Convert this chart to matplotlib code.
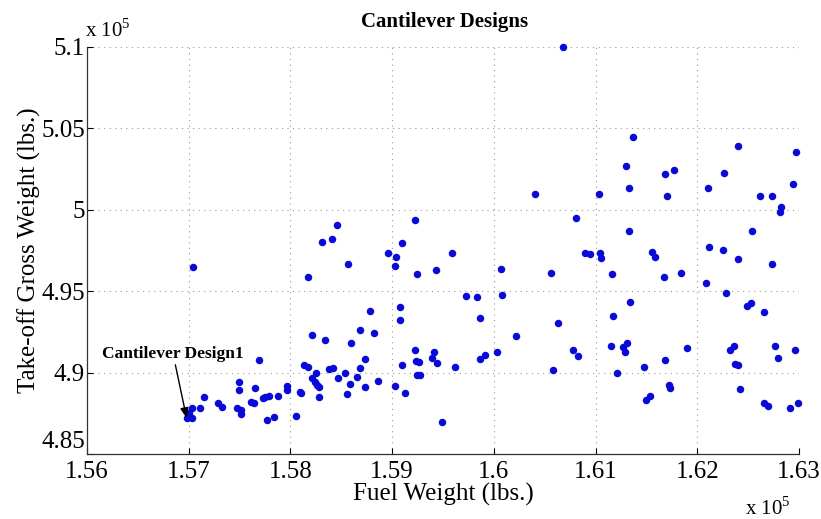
import numpy as np
import matplotlib
matplotlib.use("Agg")
import matplotlib.pyplot as plt
import matplotlib.transforms as mtransforms
from matplotlib.ticker import FuncFormatter

# fuel weight and take-off gross weight, both in units of 1e5 lbs
fuel_weight = [
    1.5704, 1.5817, 1.5821, 1.5834, 1.5769, 1.5813, 1.5817, 1.5825, 1.5838, 1.5821,
    1.5824, 1.5826, 1.5828, 1.5828, 1.5809, 1.5810, 1.5797, 1.5797, 1.5788, 1.5779,
    1.5775, 1.5773, 1.5765, 1.5761, 1.5764, 1.5749, 1.5749, 1.5747, 1.5751, 1.5751,
    1.5729, 1.5733, 1.5715, 1.5711, 1.5703, 1.5700, 1.5698, 1.5703, 1.5777, 1.5784,
    1.5805, 1.5857, 1.5896, 1.5904, 1.5903, 1.5959, 1.5924, 1.5943, 1.6007, 1.6056,
    1.5973, 1.5983, 1.6008, 1.5986, 1.6063, 1.6022, 1.5878, 1.5908, 1.5908, 1.5868,
    1.5882, 1.5860, 1.5873, 1.5922, 1.5941, 1.5939, 1.5944, 1.5923, 1.5926, 1.5910,
    1.5924, 1.5927, 1.5962, 1.5986, 1.5991, 1.6003, 1.6058, 1.6078, 1.5842, 1.5847,
    1.5854, 1.5868, 1.5865, 1.5859, 1.5856, 1.5873, 1.5886, 1.5903, 1.5913, 1.5949,
    1.6090, 1.6095, 1.6104, 1.6105, 1.6155, 1.6158, 1.6116, 1.6167, 1.6184, 1.6240,
    1.6273, 1.6209, 1.6228, 1.6249, 1.6253, 1.6266, 1.6134, 1.6117, 1.6115, 1.6127,
    1.6131, 1.6129, 1.6190, 1.6168, 1.6148, 1.6121, 1.6083, 1.6172, 1.6173, 1.6150,
    1.6154, 1.6232, 1.6236, 1.6237, 1.6240, 1.6242, 1.6276, 1.6279, 1.6296, 1.6266,
    1.6270, 1.6291, 1.6299, 1.6137, 1.6130, 1.6133, 1.6103, 1.6168, 1.6177, 1.6170,
    1.6081, 1.6133, 1.6240, 1.6226, 1.6211, 1.6297, 1.6294, 1.6262, 1.6273, 1.6282,
    1.6281, 1.6254, 1.6212, 1.6225, 1.6068, 1.6040, 1.5846, 1.5841, 1.5922, 1.5910,
    1.5831,
]
gross_weight = [
    4.9647, 4.9589, 4.9231, 4.9200, 4.9077, 4.9047, 4.9036, 4.9000, 4.9020, 4.8965,
    4.8944, 4.8924, 4.8910, 4.8852, 4.8883, 4.8876, 4.8920, 4.8893, 4.8856, 4.8858,
    4.8852, 4.8842, 4.8907, 4.8821, 4.8815, 4.8944, 4.8893, 4.8780, 4.8770, 4.8744,
    4.8815, 4.8790, 4.8848, 4.8781, 4.8780, 4.8750, 4.8719, 4.8719, 4.8709, 4.8725,
    4.8735, 4.9667, 4.9733, 4.9712, 4.9657, 4.9737, 4.9606, 4.9630, 4.9634, 4.9614,
    4.9472, 4.9462, 4.9477, 4.9334, 4.9303, 4.9225, 4.9380, 4.9405, 4.9323, 4.9262,
    4.9245, 4.9184, 4.9085, 4.9139, 4.9128, 4.9088, 4.9057, 4.9071, 4.9063, 4.9047,
    4.8985, 4.8985, 4.9033, 4.9082, 4.9108, 4.9127, 4.9016, 4.9139, 4.9026, 4.8965,
    4.9000, 4.9026, 4.8971, 4.8930, 4.8869, 4.8913, 4.8950, 4.8918, 4.8873, 4.8698,
    4.9733, 4.9728, 4.9733, 4.9702, 4.9743, 4.9708, 4.9606, 4.9585, 4.9614, 4.9696,
    4.9667, 4.9549, 4.9487, 4.9409, 4.9426, 4.9372, 4.9434, 4.9350, 4.9163, 4.9159,
    4.9184, 4.9128, 4.9149, 4.9077, 4.9036, 4.8996, 4.9102, 4.8924, 4.8904, 4.8832,
    4.8856, 4.9139, 4.9163, 4.9053, 4.9047, 4.8897, 4.9163, 4.9088, 4.9139, 4.8815,
    4.8795, 4.8781, 4.8811, 5.0445, 5.0271, 5.0136, 5.0097, 5.0220, 5.0244, 5.0085,
    4.9948, 4.9870, 5.0394, 5.0224, 5.0136, 5.0353, 5.0158, 5.0087, 5.0087, 5.0016,
    4.9985, 4.9870, 4.9770, 4.9753, 5.1001, 5.0097, 4.9906, 4.9819, 4.9937, 4.9798,
    4.9800,
]

design1 = (1.5698, 4.8719)
x_ticks = [1.56, 1.57, 1.58, 1.59, 1.60, 1.61, 1.62, 1.63]
y_ticks = [4.85, 4.90, 4.95, 5.00, 5.05, 5.10]

plt.rcParams["font.family"] = ["Liberation Serif", "DejaVu Serif"]
plt.rcParams["mathtext.fontset"] = "custom"
plt.rcParams["mathtext.rm"] = "Liberation Serif"

W, H = 821, 519
fig = plt.figure(figsize=(W / 100, H / 100), dpi=100)
ax = fig.add_axes([87 / W, 65 / H, 712 / W, 407 / H])

ax.plot(fuel_weight, gross_weight, "o", color="#0a0ad8", ms=5.4, mew=0, clip_on=False, zorder=3)

ax.set_xlim(1.56, 1.63)
ax.set_ylim(4.85, 5.10)
ax.set_xticks(x_ticks)
ax.set_yticks(y_ticks)
fmt = FuncFormatter(lambda v, p: "%g" % round(v, 3))
ax.xaxis.set_major_formatter(fmt)
ax.yaxis.set_major_formatter(fmt)
ax.tick_params(direction="in", length=4, width=0.8, labelsize=18, colors="black")
ax.tick_params(axis="x", pad=5)
ax.tick_params(axis="y", pad=1.5)

ax.grid(True, linestyle=(0, (1, 4)), color="#999999", linewidth=0.8)
for s in ["top", "right"]:
    ax.spines[s].set_visible(False)
for s in ["left", "bottom"]:
    ax.spines[s].set_linewidth(0.9)
    ax.spines[s].set_color("#333333")

ax.set_xlabel("Fuel Weight (lbs.)", fontsize=18)
ax.xaxis.set_label_coords(0.5, -0.07)
ax.set_ylabel("Take-off Gross Weight (lbs.)", fontsize=18)
ax.yaxis.set_label_coords(-0.064, 0.5)

# lowest y tick label sits a little higher so it clears the 1.56 label
fig.canvas.draw()
low_label = ax.get_yticklabels()[0]
low_label.set_transform(low_label.get_transform() +
                        mtransforms.ScaledTranslation(0, 14 / 100, fig.dpi_scale_trans))

fig.text(445 / W, 1 - 22 / H, "Cantilever Designs", fontsize=15, fontweight="bold",
         ha="center", va="center")
fig.text(85 / W, 1 - 37 / H, r"x 10$^{5}$", fontsize=15, ha="left", va="baseline")
fig.text(745 / W, 1 - 515 / H, r"x 10$^{5}$", fontsize=15, ha="left", va="baseline")

ax.annotate("Cantilever Design1", xy=design1, xytext=(1.5615, 4.9114),
            fontsize=12.5, fontweight="bold", ha="left", va="center",
            arrowprops=dict(arrowstyle="-|>,head_length=0.5,head_width=0.2",
                            color="black", lw=1, shrinkA=0, shrinkB=0))

fig.savefig("out.png", dpi=100)
